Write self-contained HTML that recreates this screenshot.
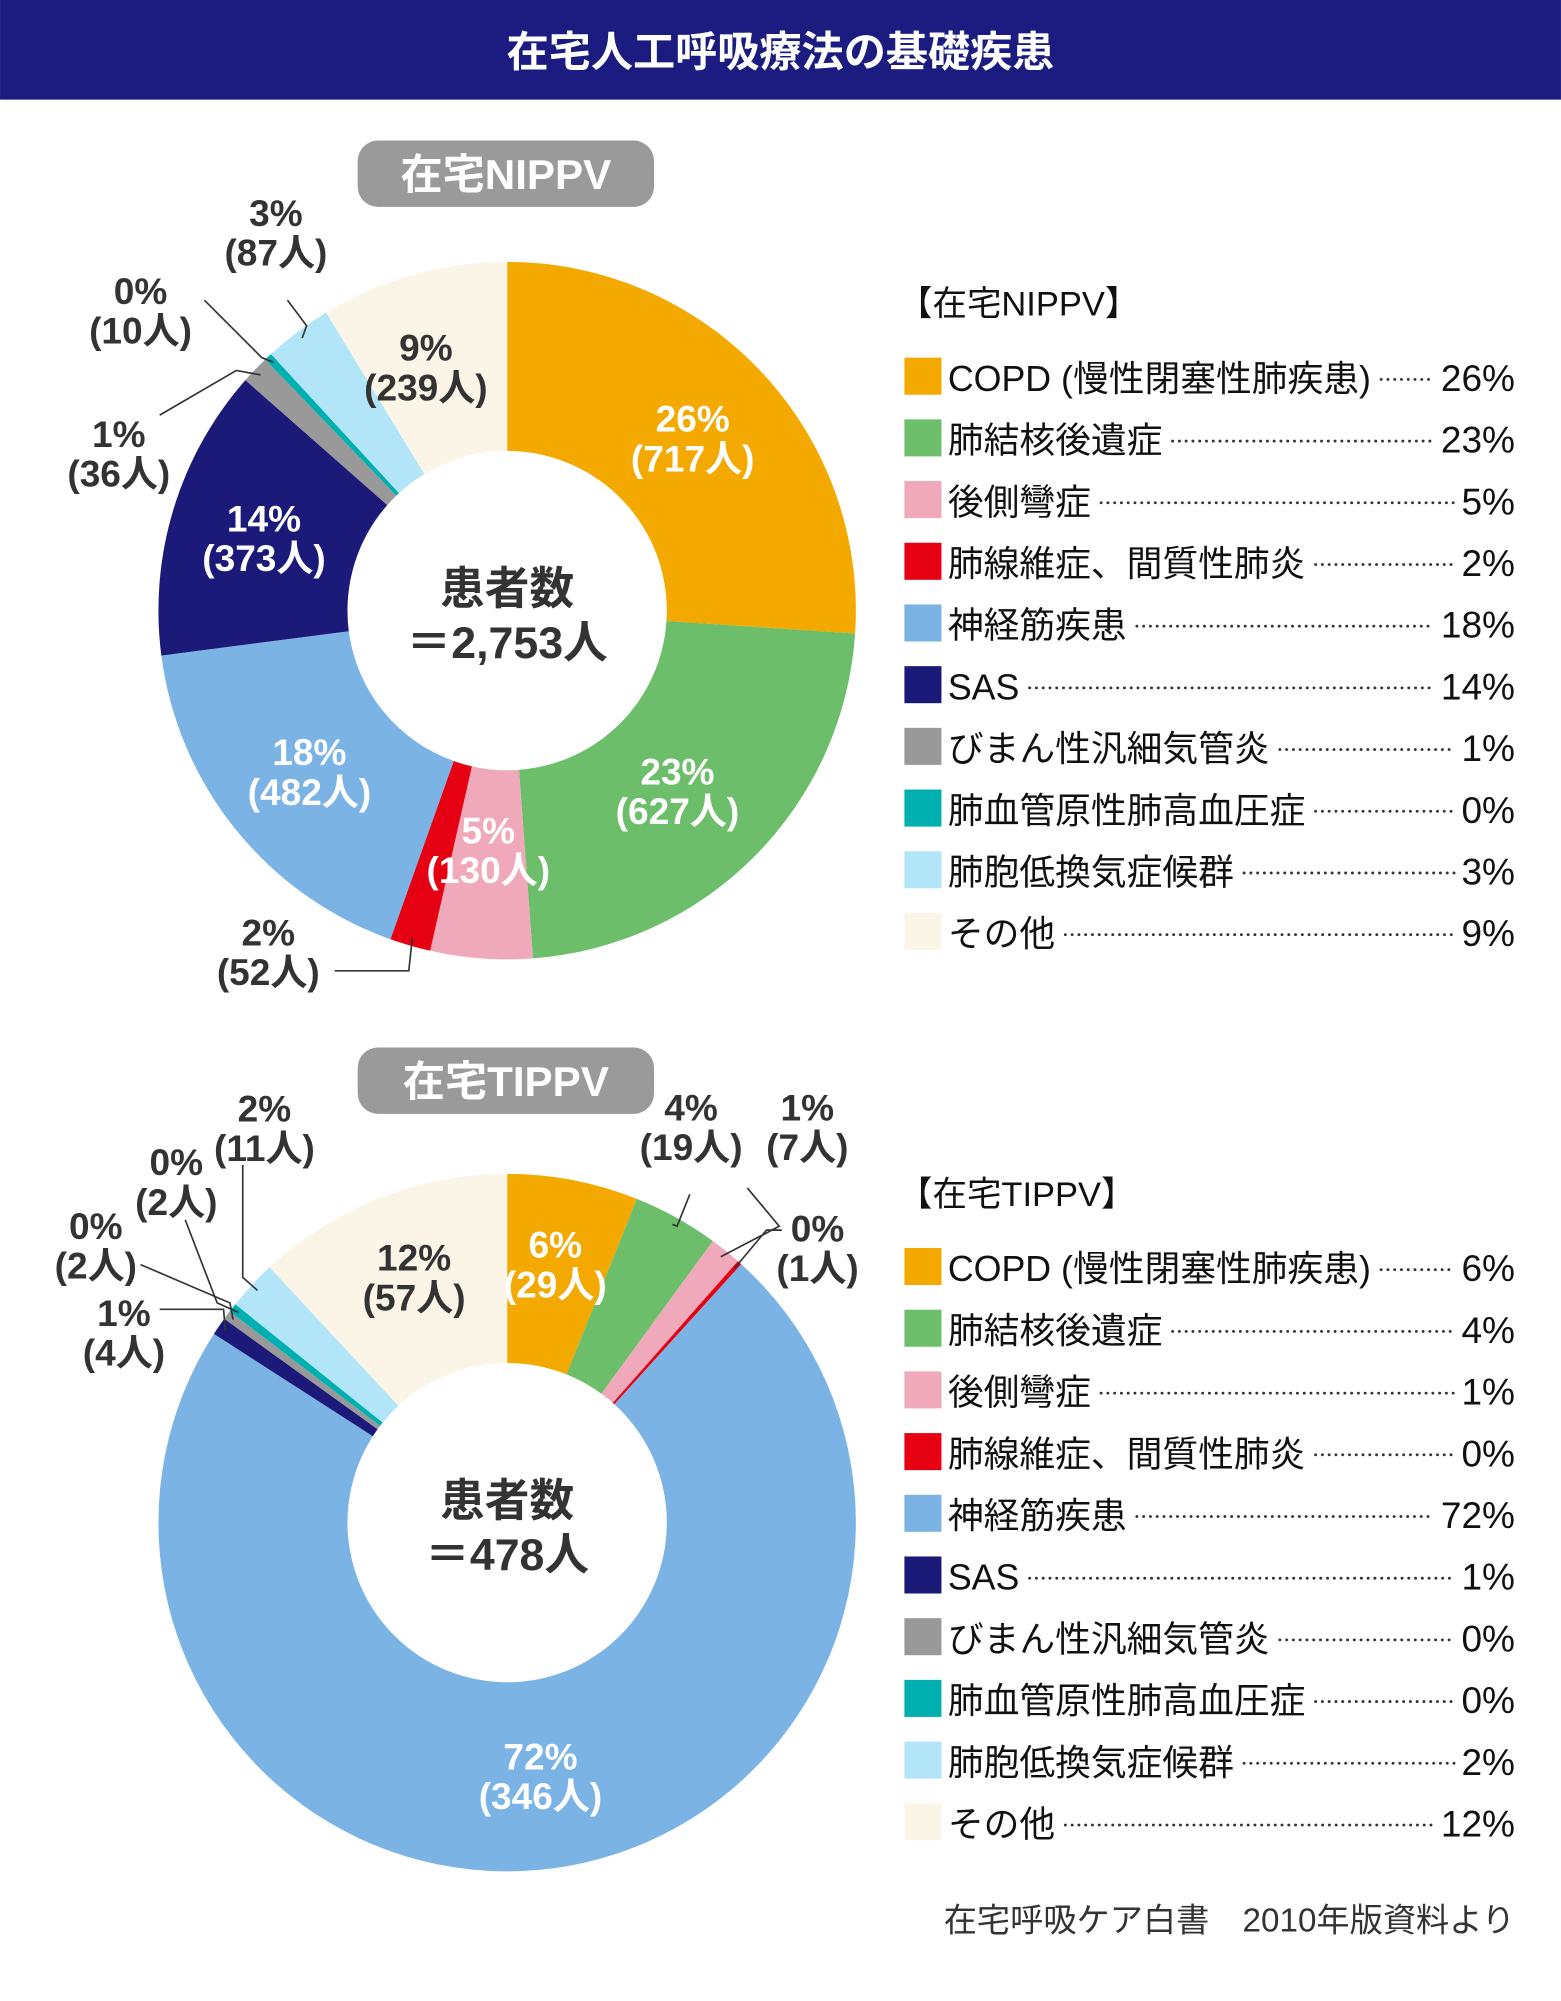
<!DOCTYPE html>
<html><head><meta charset="utf-8"><style>
html,body{margin:0;padding:0;background:#fff;}
svg{display:block;}
text{font-family:"Liberation Sans","Noto Sans CJK JP",sans-serif;}
</style></head><body>
<svg id="chart" width="1561" height="2001" viewBox="0 0 1222 1566.5" xmlns="http://www.w3.org/2000/svg">
<rect x="0" y="0" width="1222" height="78" fill="#1c1c80"/>
<text x="611" y="52" text-anchor="middle" font-size="33" font-weight="bold" fill="#fff">在宅人工呼吸療法の基礎疾患</text>
<rect x="280" y="110" width="232" height="52" rx="16" fill="#9a9a9a"/>
<text x="396" y="148" text-anchor="middle" font-size="33" font-weight="bold" fill="#fff">在宅NIPPV</text>
<rect x="280" y="820" width="232" height="52" rx="16" fill="#9a9a9a"/>
<text x="396" y="858" text-anchor="middle" font-size="33" font-weight="bold" fill="#fff">在宅TIPPV</text>
<g id="g1"></g>
<g id="g2"></g>
<g id="leg"></g>
<text x="1186" y="1512" text-anchor="end" font-size="26" fill="#333">在宅呼吸ケア白書　2010年版資料より</text>
</svg>
<script>
const categories=["COPD（慢性閉塞性肺疾患）","肺結核後遺症","後側彎症","肺線維症、間質性肺炎","神経筋疾患","SAS","びまん性汎細気管炎","肺血管原性肺高血圧症","肺胞低換気症候群","その他"];
const colors=["#f4a900","#6dbe6b","#f0a9bb","#e50012","#7bb3e5","#1b1a78","#999999","#00b0b0","#b3e5f8","#fbf5e8"];
const nipCounts=[717,627,130,52,482,373,36,10,87,239];
const nipPct=["26%","23%","5%","2%","18%","14%","1%","0%","3%","9%"];
const tipCounts=[29,19,7,1,346,4,2,2,11,57];
const tipPct=["6%","4%","1%","0%","72%","1%","0%","0%","2%","12%"];
const nipLegendVals=["26%","23%","5%","2%","18%","14%","1%","0%","3%","9%"];
const tipLegendVals=["6%","4%","1%","0%","72%","1%","0%","0%","2%","12%"];
const NS="http://www.w3.org/2000/svg";
function mk(t,a,p){const e=document.createElementNS(NS,t);for(const k in a)e.setAttribute(k,a[k]);p.appendChild(e);return e;}
function pt(cx,cy,r,a){return [cx+r*Math.sin(a),cy-r*Math.cos(a)];}
function donut(g,counts,pcts,cx,cy,R,r,inside,outside,total){
  const sum=counts.reduce((a,b)=>a+b,0);let a0=0;const mids=[];
  counts.forEach((c,i)=>{const a1=a0+c/sum*2*Math.PI;
    const [x1,y1]=pt(cx,cy,R,a0),[x2,y2]=pt(cx,cy,R,a1),[x3,y3]=pt(cx,cy,r,a1),[x4,y4]=pt(cx,cy,r,a0);
    const lg=(a1-a0)>Math.PI?1:0;
    const p=mk("path",{d:`M${x1},${y1}A${R},${R} 0 ${lg} 1 ${x2},${y2}L${x3},${y3}A${r},${r} 0 ${lg} 0 ${x4},${y4}Z`,fill:colors[i]},g);
    
    
    mids.push((a0+a1)/2);a0=a1;});
  inside.forEach(([i,dx,dy,white])=>{const [x,y]=pt(cx,cy,(R+r)/2,mids[i]);
    const t1=mk("text",{x:x+dx,y:y+dy-4,"text-anchor":"middle","font-size":29,"font-weight":"bold",fill:white?"#fff":"#333"},g);t1.textContent=pcts[i];
    
    
    const t2=mk("text",{x:x+dx,y:y+dy+27,"text-anchor":"middle","font-size":29,"font-weight":"bold",fill:white?"#fff":"#333"},g);t2.textContent="("+counts[i]+"人)";
    
    });
  outside.forEach(([i,lx,ly,bx,by,ex,ey])=>{const [sx,sy]=pt(cx,cy,R-6,mids[i]);
    const l=mk("polyline",{points:`${sx},${sy} ${bx},${by} ${ex},${ey}`,fill:"none",stroke:"#333","stroke-width":1.3},g);
    
    
    const t1=mk("text",{x:lx,y:ly,"text-anchor":"middle","font-size":29,"font-weight":"bold",fill:"#333"},g);t1.textContent=pcts[i];
    
    
    const t2=mk("text",{x:lx,y:ly+31,"text-anchor":"middle","font-size":29,"font-weight":"bold",fill:"#333"},g);t2.textContent="("+counts[i]+"人)";
    
    });
  const c1=mk("text",{x:cx,y:cy-5,"text-anchor":"middle","font-size":35,"font-weight":"bold",fill:"#333"},g);c1.textContent="患者数";
  
  
  const c2=mk("text",{x:cx,y:cy+37,"text-anchor":"middle","font-size":35,"font-weight":"bold",fill:"#333"},g);c2.textContent="＝"+total+"人";
  
  
}
donut(document.getElementById('g1'),nipCounts,nipPct,397,478,273,125,
 [[0,0,0,true],[1,-8,0,true],[2,0,-12,true],[4,0,0,true],[5,0,0,true],[9,-10,0,false]],
 [[3,210,740,320,760,262,760],[6,93,350,185,290,125,325],[7,110,238,205,280,160,235],[8,216,177,240,255,225,235]],"2,753");
donut(document.getElementById('g2'),tipCounts,tipPct,397,1192,273,125,
 [[0,0,-8,true],[9,0,-8,false],[4,0,0,true]],
 [[1,541,877,530,960,540,935],[2,632,877,610,960,585,930],[3,640,972,600,963,612,963],[8,207,878,190,1000,190,912],[7,138,920,170,1020,145,955],[6,75,970,180,1020,110,990],[5,97,1038,175,1025,125,1025]],"478");
function legend(g,title,y0,vals){
  const h=mk("text",{x:703,y:y0,"font-size":27,fill:"#111"},g);h.textContent=title;
  
  
  categories.forEach((c,i)=>{const y=y0+56+i*48.3;
    const s=mk("rect",{x:708,y:y-23,width:29,height:29,fill:colors[i]},g);
    
    
    const t=mk("text",{x:742,y:y+3,"font-size":28,fill:"#111"},g);t.textContent=c.replace("（"," (").replace("）",")");
    
    
    const v=mk("text",{x:1186,y:y+3,"text-anchor":"end","font-size":29,fill:"#111"},g);v.textContent=vals[i];
    
    
    const tw=t.getComputedTextLength(),vw=v.getComputedTextLength();
    const x1=742+tw+8,x2=1186-vw-5;
    if(x2>x1){const d=mk("line",{x1:x1,y1:y-6,x2:x2,y2:y-6,stroke:"#333","stroke-width":2.2,"stroke-dasharray":"0.1 5.2","stroke-linecap":"round"},g);
      
      }
  });
}
const lg=document.getElementById('leg');
legend(lg,"【在宅NIPPV】",247,nipLegendVals);
legend(lg,"【在宅TIPPV】",944,tipLegendVals);
</script>
</body></html>
